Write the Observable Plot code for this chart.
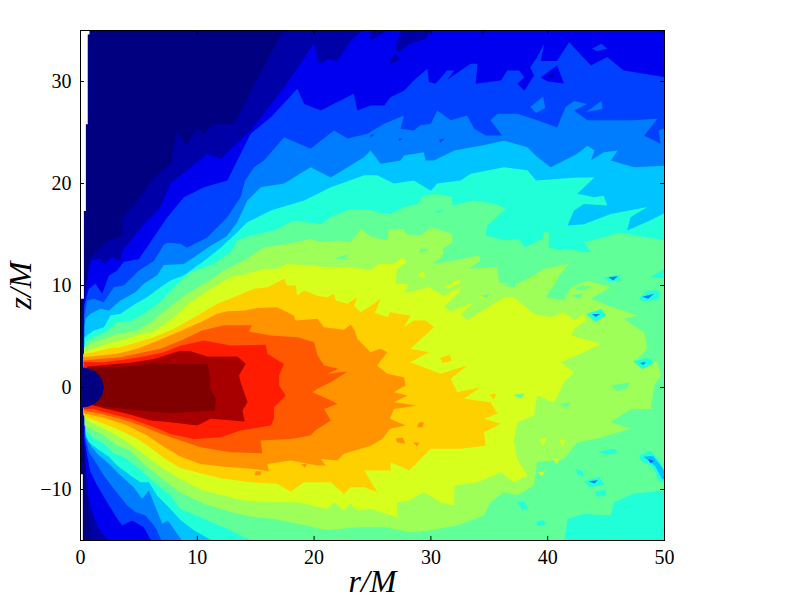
<!DOCTYPE html>
<html><head><meta charset="utf-8">
<style>html,body{margin:0;padding:0;background:#fff}</style>
<script src="https://cdn.jsdelivr.net/npm/d3@7"></script>
<script src="https://cdn.jsdelivr.net/npm/@observablehq/plot@0.6"></script>
</head><body><div id="c"></div><script>
const levelColors=["#000080","#0000a8","#0000f1","#0040ff","#007cff","#00c4ff","#20ffd7","#60ff97","#9eff58","#d7ff1e","#ffd000","#ff9400","#ff5800","#ff1c00","#a80000","#800000"];
const rTicks=[0,10,20,30,40,50];
const zTicks=[-10,0,10,20,30];
// contour boundaries, as [r/M, z/M]
const level0=[[.77,35.2],[.77,34.6],[.62,34.6],[.62,25.8],[.46,25.8],[.46,17.3],[.29,17.3],[.29,8.7],[0,8.7],[0,-8.5],[.2,-8.5],[.2,-15.2],[50.2,-15.2],[50.2,35.2]];
const level1=[[.9,-15.2],[.71,-12.54],[.57,-11.24],[.5,-9.6],[.43,-7.64],[.28,-5],[.25,2],[.3,8],[.45,10],[.7,12.2],[.86,12.8],[2,14.1],[2.4,14.4],[3.6,14.9],[3.6,16.7],[4.9,18.3],[6.3,20.6],[7.7,21.9],[8.3,25.2],[9,23.7],[10,25.36],[10.57,24.87],[11.43,25.85],[13.14,25.85],[17.43,35.2],[50.2,35.2],[50.2,-15.2]];
const level2=[[2.5,-15.2],[1.57,-13.85],[1,-12.2],[.71,-10.9],[.57,-9.6],[.43,-7.3],[.28,-4.7],[.25,2],[.3,8.5],[.6,10.5],[.77,11.8],[1,12.5],[1.7,12.6],[2.14,12],[2.57,12.8],[3.4,12.4],[3.6,13.4],[4.3,14.4],[5.43,16],[6.86,17.7],[7.7,20],[9.14,21.3],[10.86,22.9],[12,22.4],[14.57,25.2],[17.43,29.4],[20,33.7],[20.43,31.7],[21.2,32.2],[22,32],[23.14,34],[24,34.84],[24.86,35.2],[50.2,35.2],[50.2,-15.2]];
const level3=[[6.14,-15.2],[5.42,-13.69],[4.42,-13.03],[3.57,-13.5],[3.14,-12.87],[2.28,-11.24],[1.43,-9.6],[.86,-8.3],[.57,-6.66],[.34,-5],[.28,2],[.3,8],[.71,9.67],[1.28,10.16],[1.86,9.18],[2.43,10.98],[3.14,11.47],[3.7,12.3],[5,12.6],[5.7,13.76],[7.43,16.7],[8.86,18.66],[10.57,19.64],[12.57,20.3],[14.57,24.87],[16.3,26.5],[18.57,29.3],[19.14,27.8],[20.57,27.16],[23.4,28.8],[23.7,27.16],[24.83,27.65],[26,27.65],[26.54,28.46],[27.7,29.1],[28.54,30.1],[29.7,31.24],[29.83,29.94],[30.4,29.77],[31.4,31.08],[32,31.08],[31.4,30.16],[33.4,31.73],[34,31.73],[33.83,29.77],[36,30.1],[36.54,31.08],[37.54,31.08],[38,30.4],[37.4,29.77],[38,29.1],[38.83,30.6],[38.5,31.4],[39,32.2],[39.7,33.7],[39.4,32],[40.8,32],[41.83,33.86],[43.7,31.57],[45.1,32.4],[46.5,31.07],[50.2,30.4],[50.2,-15.2]];
const level4=[[7,-15.2],[6.42,-13.69],[5.56,-12.54],[4.7,-12.2],[4,-11.56],[2.85,-9.93],[2,-8.62],[1.28,-7.3],[.71,-6.3],[.43,-5],[.3,2],[.35,7],[.57,8.53],[1.14,8.7],[2,8.36],[2.85,9.84],[3.7,10],[5,11.47],[6.28,12.4],[7.13,14],[7.42,14.2],[8.56,14.1],[9.1,13.7],[10.85,14.7],[12.56,16.7],[13.7,18.65],[14.1,20.3],[14.86,21.6],[15.7,22.25],[17.43,24.54],[19.7,23.4],[21.7,25.2],[22.86,24.4],[24.57,24.87],[26,25.85],[27.7,26.67],[27.4,25.36],[28.54,25.2],[29.1,25.7],[30,25.85],[30.54,27.16],[31.7,26.2],[33.1,26.67],[33.7,25.36],[34.7,24.7],[36.1,24.7],[35.1,26.2],[35.7,26.83],[37.4,26.83],[39.1,26.2],[40.8,25.5],[41.54,27.5],[42.26,28.1],[43.4,27.8],[42.26,27.16],[43.4,26.2],[47.4,26.2],[49.4,26.34],[48.26,24.7],[49.66,23.9],[49.5,25.2],[50.2,25.5],[50.2,-15.2]];
const level5=[[8.8,-15.2],[7.48,-13.03],[7,-13.36],[6.42,-11.73],[5.85,-10.09],[5.28,-10.9],[4.56,-9.77],[3.28,-8.46],[2.43,-7.48],[1.43,-6.5],[.86,-5.68],[.43,-4.86],[.3,2],[.35,6],[.43,6.73],[.86,7.22],[1.7,7.71],[2.43,7.55],[3.42,8.53],[4.7,9.35],[5.42,10.16],[6.56,11],[7.13,12],[8.85,12.1],[9.5,12.6],[11.13,13.9],[12.5,14.8],[13.42,16.2],[14.27,18.3],[15.43,19.64],[17.43,20],[19.7,21.6],[21.43,20.6],[24.3,22.6],[24.83,23.23],[25.7,21.93],[27.4,22.25],[27.7,22.75],[29.4,23.07],[29.54,22.25],[30.26,22.25],[32,23.23],[34.26,23.7],[36.26,24.2],[38.26,23.56],[39.1,22.6],[40.26,21.6],[42.5,22.9],[43.4,23.7],[44,23.23],[43.7,22.25],[44.8,23.07],[46,23.23],[45.4,22.25],[47.4,21.6],[50.2,21.76],[50.2,-15.2]];
const level6=[[12,-15.2],[11.1,-14.9],[9.7,-14],[8.56,-13],[7.7,-11.9],[6.56,-10.6],[5.85,-9.28],[5.14,-9.28],[4.28,-8.62],[3.14,-7.64],[2.43,-6.8],[1.43,-6],[.71,-5.35],[.43,-4.54],[.3,2],[.34,4.93],[1.14,5.59],[2,5.91],[2.57,7.06],[3.42,7.22],[4.7,8.2],[5.7,8.85],[6.85,9.84],[7.7,10.5],[8.85,11],[10.57,12.4],[12,13.7],[13.4,15.2],[14.27,16.2],[16.3,17.35],[19.14,18.33],[21.43,19.64],[24.3,20.8],[25.4,20.8],[26.83,20],[28.54,20.3],[30,19.3],[30.54,20],[32.54,20.3],[33.4,20.95],[36.26,21.6],[38.26,21.3],[39,20.3],[42.54,20.6],[44,20.6],[42.54,19],[44,18.66],[44.8,18.8],[45.1,17.84],[43.1,18],[42.26,17.35],[41.7,15.88],[43.1,16],[45.4,17],[48.54,17.7],[47.1,16.7],[46.8,15.4],[48.8,16.4],[50.2,17.2],[50.2,-15.2]];
const level7=[[15.13,-15.2],[14,-14.68],[12.85,-14],[11.42,-13.3],[10,-12.6],[8.56,-11.9],[7.7,-10.6],[6.42,-9.4],[5,-7.97],[3.7,-6.8],[2.85,-6.5],[2,-5.52],[1.14,-5.03],[.43,-4.21],[.3,2],[.43,4.44],[1.14,5],[2.14,5.42],[3.14,6.4],[4.28,6.5],[5.42,7.22],[6.85,8.4],[8,9.83],[9.42,11.3],[11.4,12.12],[12.85,13.26],[13.42,14.4],[14.57,14.9],[16.57,15.4],[18.27,16.37],[20.57,16],[21.42,16.7],[23.13,17.5],[24.85,17.4],[25.4,17.2],[26.54,17],[27.7,17.68],[28.83,18],[29.4,18.82],[30.54,18.98],[31.83,18.66],[31.83,17.84],[33.7,18.33],[35.54,18],[36.4,17.51],[34.83,15.88],[34.7,14.9],[36.4,14.4],[37.54,14.57],[38,13.75],[39.54,14.57],[39.7,15.22],[40.1,15.22],[40.1,13.75],[41.1,13.43],[41.4,13.59],[43.7,13.26],[43.1,14.24],[45.4,14.9],[46,15.2],[50.2,14.4],[50.2,-10.1],[47.4,-10.4],[45.7,-11.24],[45.4,-12.55],[43.1,-12.4],[41.7,-12.9],[41.4,-15.2]];
const level8=[[.34,-3.72],[.3,2],[.3,3.95],[1.14,4.44],[2,4.77],[3.14,5.26],[4.85,5.58],[6,6.4],[7.42,7.7],[9.14,9.18],[10.56,10.16],[12.28,11.47],[14,12.45],[15.7,13.75],[17.7,14.08],[19.7,14.57],[20.57,14.24],[22,14.4],[23.13,14.24],[24,15.55],[24.83,14.8],[26.26,14.4],[26.4,15.55],[27.7,15.55],[27.83,15.06],[29.1,14.9],[30,15.72],[31.83,15.06],[31.83,14.24],[31,13.59],[31.1,12.94],[30.1,12.12],[32,12.45],[34.1,12.94],[34.26,12.45],[33.26,11.63],[35.7,11.8],[35.83,10.32],[36.83,10.16],[37.7,10.32],[38.54,10.8],[39.7,11.63],[41.83,12.12],[41.1,11.14],[40.4,9.83],[39.83,8.85],[41.4,8.53],[42,9.83],[43.4,10.5],[45.4,9.83],[43.7,8.7],[45.4,7.94],[47.7,7.06],[46.5,6.73],[48.26,5.42],[48.54,3.8],[47.7,2.8],[49.4,2.48],[49.7,1.18],[49.1,.2],[48.83,-2.1],[47.1,-2.1],[45.4,-3.4],[47.1,-4.05],[44.26,-5],[42.54,-5.36],[41.4,-7],[39.1,-7.3],[38.83,-9.6],[37.4,-10.6],[36.26,-10.26],[35.1,-11.24],[34.54,-12.55],[32.26,-13.53],[30,-14],[28.28,-14.2],[26,-13.7],[23.7,-13.7],[21.13,-14],[18.56,-13.37],[16.56,-12.88],[14.56,-12.65],[12.85,-12.2],[10.56,-11.4],[8.56,-10.3],[7.13,-9.1],[5.42,-7.5],[4.28,-6.2],[3.14,-5.68],[2,-4.7],[1.14,-4.21]];
const level9=[[.57,-3.23],[.3,-2.8],[.3,3.46],[1.14,3.79],[2.28,4.28],[3.42,4.61],[4.85,5.1],[6.4,5.6],[8,6.89],[9.42,8.36],[11.13,9.67],[12.85,10.81],[14.28,11.14],[15.7,11.63],[16.85,11.63],[17.7,12.12],[19.7,11.96],[21.42,11.73],[23.13,11.8],[24.83,11.5],[25.54,12.12],[26.83,12.12],[27.54,12.77],[27.92,12.28],[27.1,11.63],[26.97,10.16],[28.1,10.16],[27.7,9.18],[26.83,9],[29.83,9.83],[31.1,9],[32.54,9.83],[32.4,9.34],[31.1,7.87],[31.7,7.48],[33.7,8.36],[32.54,7.2],[33.1,6.56],[36.26,8.85],[37.1,8.85],[38.83,7.2],[40.26,6.89],[41.4,7.38],[42.26,6.56],[43.1,7.2],[43.26,6.56],[42.26,5.75],[42,5.1],[44.54,4.28],[43.1,3.46],[41.1,2.48],[42.26,1.5],[41.4,.52],[40.54,-1.44],[39.1,-.78],[38.83,-2.75],[37.4,-3.4],[37.1,-5.36],[37.4,-7],[38.26,-8.63],[37.1,-9.3],[36,-8.3],[34,-9.3],[32,-9.6],[32,-11.57],[30.83,-11.24],[29.4,-10.26],[28.14,-11.08],[27.13,-11.25],[27.13,-12.72],[24.85,-11.9],[23.7,-12.06],[23.13,-11.4],[22.56,-12.06],[21.7,-11.25],[21.13,-11.9],[18.56,-11.25],[16.28,-11.25],[14,-11.08],[11.7,-10.43],[10.28,-10],[8.56,-9],[7.13,-8],[5.7,-6.8],[4.56,-5.8],[3.14,-4.7],[1.7,-3.88]];
const level10=[[.43,-2.9],[.23,-2.7],[.23,3.3],[1.14,3.46],[2.28,3.79],[3.42,3.95],[4.85,4.44],[6.28,4.93],[8,5.75],[10.28,7.22],[11.7,8.2],[13.13,8.85],[14.85,9.67],[16,9.83],[16.85,10.32],[17.42,10.65],[17.7,10],[18.42,10],[18.56,9],[19.13,9.5],[20.28,9],[21.13,8.85],[21.7,9.18],[21.85,8.53],[22.85,8.2],[23.7,8.85],[23.42,8],[24,7.38],[24.83,8],[25.7,8.7],[25.2,7.3],[26.3,6.9],[26.5,7.4],[27.3,7.2],[28.26,7.06],[27.7,5.9],[28.54,6.56],[29.54,6.56],[30.26,5.9],[28.26,3.8],[29.83,3.46],[28.26,2.48],[30.83,1.34],[33.1,2.16],[31.7,.85],[32.26,-.46],[34.26,.03],[32.83,-1.1],[35.1,-1.44],[35.7,-2.58],[34.54,-3.07],[36,-3.56],[34.54,-4.38],[34.7,-5.7],[32.54,-6],[30,-6],[29.1,-7],[28.14,-8.14],[26.56,-7.33],[26.56,-8.14],[24.28,-8.14],[25.42,-10.27],[24.28,-9.78],[23.13,-9.78],[22.56,-10.43],[21.42,-9.28],[19.13,-9.28],[18,-10.2],[16.85,-9.45],[14.56,-9.28],[12,-8.9],[10.28,-8.4],[8.56,-7.9],[7.13,-6.9],[6,-5.9],[4.85,-5.03],[3.42,-4.21],[2,-3.56]];
const level11=[[.43,-2.58],[.23,-2.5],[.23,2.97],[1.7,3.14],[3.14,3.3],[4.85,3.79],[6.28,4.44],[8.28,5.4],[10.28,6.4],[11.7,7.22],[12.56,7.48],[14,7.54],[15.13,7.8],[16.85,7.87],[18.27,7.05],[18.42,6.56],[20.28,6.73],[20.85,5.9],[22.56,5.65],[23.13,6.17],[23.48,5.6],[23.7,4.77],[24.83,3.46],[25.7,3.8],[26.26,3.46],[25.4,2.16],[26.26,1.34],[27.7,1],[27.83,.2],[26.83,-.46],[28,-.78],[26.83,-1.44],[28.83,-1.76],[26.83,-2.1],[26.5,-3.07],[27.83,-3.73],[26.5,-4.05],[25.85,-5.04],[24.85,-5.7],[22.56,-6.5],[22,-7.16],[20.56,-7],[21,-7.65],[20.28,-7.65],[18,-7.16],[16,-7.5],[16.13,-8.2],[14.85,-7.98],[12.56,-7.8],[10.28,-7.5],[8.56,-6.8],[7.13,-5.8],[5.7,-4.7],[4,-3.72],[2.28,-3.07]];
const level12=[[.28,-2.25],[.23,2.65],[1.7,2.8],[3.42,2.97],[5.42,3.46],[6.85,3.79],[8.8,4.7],[10.4,5.6],[12.3,6.1],[13.7,6.1],[14.7,6.1],[14.4,5.5],[16.3,5.1],[18.57,4.93],[20,4.44],[20.3,3.14],[20.86,2.16],[22.1,1.83],[21.14,1.34],[22.86,1.57],[21.43,.52],[20.3,-.13],[19.86,-.46],[21.14,-1.1],[22,-1.6],[20.86,-2.1],[21.43,-3.24],[20.1,-4.22],[19.7,-4.7],[18,-5.04],[15.42,-5.2],[15.56,-6.44],[12.85,-6.34],[10.28,-5.85],[8.56,-5.2],[6.85,-4.54],[5.14,-3.72],[3.42,-3.07],[1.7,-2.58]];
const level13=[[.28,2.5],[2,2.48],[3.7,2.71],[5.42,3.04],[7.13,3.46],[8.56,4.1],[10.57,4.6],[12.86,4.12],[15.86,4.18],[16,3.3],[16.7,2.8],[17.43,2.32],[17,1.18],[17,.2],[17.57,-.78],[16.57,-1.93],[16.57,-3.07],[16.3,-3.73],[13.7,-4.22],[12,-4.87],[9.7,-5.04],[7.7,-4.55],[6.28,-3.88],[4.28,-3.07],[2.57,-2.58],[1,-2.09],[.28,-2.1]];
const level14=[[.57,2.06],[2.28,2.22],[4.28,2.42],[6.28,2.8],[8.56,3.6],[9.43,3.56],[10.86,3.04],[13.43,3.04],[14.14,2.32],[13.57,1.18],[13.71,.52],[14,-.46],[14.3,-1.44],[13.86,-2.25],[14.06,-3.33],[11.14,-3.07],[10,-3.73],[7.7,-3.4],[6,-3.23],[4,-2.58],[2.14,-2.09],[.57,-1.6]];
const level15=[[.86,2],[3.43,2],[6.57,2.4],[7.7,2.3],[10.86,2.3],[11.1,1.18],[11.1,-.13],[11.6,-1.1],[11.5,-2.25],[7.7,-2.5],[6.28,-2.4],[3.7,-2.09],[1.14,-1.76]];
const horizon=[[0,2],[.7,1.87],[1.2,1.6],[1.6,1.2],[1.85,.75],[2,0],[1.85,-.75],[1.6,-1.2],[1.2,-1.6],[.7,-1.87],[0,-2]];
// small closed patches, painted after the nested bands: [level, outline]
const patches=[
[1,[[27.5,35.2],[30,35.2],[29.6,34.2],[28.2,33.7],[27.3,32.9],[26.9,33.2]]],
[1,[[26.9,32.7],[27.4,32.2],[26.3,31.6]]],
[1,[[24.83,35.2],[26.5,35.2],[24.83,34]]],
[1,[[34.2,35.2],[34.8,35.2],[34.4,34.4]]],
[1,[[49,35.2],[50.2,35.2],[50.2,34.5]]],
[2,[[39.4,30.4],[40.8,31.6],[41.4,29.8],[40,30]]],
[1,[[40,30.6],[40.6,30.8],[40.4,30.4]]],
[3,[[43.8,33.2],[44.6,33.7],[45.1,33.2],[44.2,33]]],
[4,[[38.5,27.5],[39.6,28.5],[39.8,27.4],[39,26.9]]],
[4,[[43.3,27],[44.6,28.1],[44.7,27.3]]],
[3,[[24.83,24.8],[25.2,24.8],[24.83,24.5]]],
[3,[[27.2,24.4],[27.6,24.4],[27.3,24.2]]],
[3,[[30.7,24.3],[31.2,24.4],[30.8,24]]],
[7,[[29.1,13.6],[29.9,13.5],[29,13.2]]],
[7,[[30.8,12.9],[32,13.5],[31.2,12.5]]],
[6,[[30.4,17.3],[31.2,17.4],[30.6,17.1]]],
[7,[[21.7,12.6],[23,13.1],[22.6,12.6]]],
[9,[[28.8,11],[29.4,11.4],[29.5,10.7]]],
[9,[[31.1,9.8],[32.4,10.6],[32.6,10.3],[31.5,9.7]]],
[9,[[34.1,8.9],[34.7,9.2],[35.1,8.9],[34.5,8.6]]],
[7,[[42.3,9.7],[43,10],[43.8,9.9],[43,9.5]]],
[6,[[44.8,10.8],[46.2,11],[46.2,10.5],[45.2,10.4]]],
[4,[[45.2,10.8],[46,10.9],[45.6,10.5]]],
[6,[[48.8,10.8],[50.2,11.8],[50.2,10.7]]],
[7,[[36.2,10],[37.2,10.4],[37.2,9.8]]],
[7,[[42,9],[43,9.3],[42.8,8.7]]],
[7,[[40,9.5],[40.8,9.4],[40.4,9]]],
[7,[[34.2,9],[35,9.2],[34.8,8.7]]],
[6,[[47.83,8.8],[48.6,9.5],[49.6,9.5],[49.5,8.7],[48.2,8.4]]],
[4,[[48.1,8.9],[49.1,9.2],[48.6,8.7]]],
[6,[[43.3,7.2],[44.6,7.7],[45,7.1],[44.1,6.4]]],
[4,[[43.8,7.2],[44.5,7.2],[44.1,6.9]]],
[6,[[47.3,2.6],[48.6,2.9],[49.1,2.4],[48.1,1.8]]],
[4,[[47.9,2.4],[48.4,2.5],[48.2,2.2]]],
[7,[[45.4,.2],[47,.5],[46.8,-.1],[46,-.4]]],
[7,[[37,-.7],[38,-.6],[37.7,-1.1]]],
[7,[[41,-1.6],[42,-1.5],[41.6,-2]]],
[6,[[47.83,-6.67],[48.8,-6.2],[49.6,-7.2],[50.2,-8.8],[50.2,-9.3],[49.6,-9.3],[49,-7.8],[48,-7.2]]],
[5,[[48.2,-6.8],[49,-6.7],[49.9,-8],[50.2,-9],[49.8,-9],[49.2,-7.7]]],
[3,[[48.6,-7],[49.1,-7.2],[48.8,-7.4]]],
[6,[[43.1,-9.2],[44.4,-8.8],[44.9,-9.5],[43.6,-9.8]]],
[4,[[43.5,-9.2],[44.3,-9.1],[44,-9.4]]],
[6,[[44.3,-6.3],[45.7,-6],[46,-6.4],[45,-6.6]]],
[6,[[37.4,-11.2],[38,-11.2],[38.3,-11.9],[37.8,-12]]],
[6,[[39,-13.2],[39.6,-13],[39.9,-13.4],[39.2,-13.6]]],
[6,[[42.4,-8],[43,-8.2],[43.1,-8.7],[42.6,-8.6]]],
[6,[[44,-10.2],[45,-10],[45,-10.6],[44.3,-10.7]]],
[7,[[35.5,-13.2],[36.6,-13.2],[36,-13.7]]],
[7,[[47,-6],[48,-5.8],[47.6,-6.3]]],
[9,[[39.3,-5],[39.9,-5],[39.6,-5.8]]],
[9,[[41,-5.2],[41.5,-5.1],[41.3,-5.8]]],
[9,[[40.4,-7],[41,-7],[40.8,-7.5]]],
[9,[[39.2,-8.3],[39.8,-8.2],[39.5,-8.7]]],
[10,[[30.8,2.9],[31.6,3.2],[31.8,2.6],[31,2.4]]],
[10,[[35,-.7],[35.6,-.6],[35.4,-1.2]]],
[11,[[15,-8.2],[15.5,-8.2],[15.4,-8.6],[14.9,-8.6]]],
[11,[[18.9,-7.5],[19.4,-7.5],[19.2,-7.9]]],
[11,[[29,-3.4],[29.4,-3.4],[29.3,-3.9],[28.8,-3.9]]],
[11,[[27,-5],[27.6,-4.9],[27.8,-5.5],[27.1,-5.4]]],
[11,[[28.5,-5.4],[29,-5.4],[28.8,-5.8]]],
[10,[[26.9,-5.3],[28.2,-5.9],[27.2,-6.1]]]
];
const ring=(level,id,pts)=>pts.map(([r,z])=>({r,z,level,id}));
const nested=[level0,level1,level2,level3,level4,level5,level6,level7,level8,level9,level10,level11,level12,level13,level14,level15];
const shapes=[
  ...nested.flatMap((p,i)=>ring(i,"b"+i,p)),
  ...patches.flatMap(([lv,p],i)=>ring(lv,"p"+i,p)),
  ...ring(0,"horizon",horizon)
];
const serif="'Liberation Serif','DejaVu Serif',serif";
const chart=Plot.plot({
  width:800,height:600,marginLeft:80,marginRight:136,marginTop:30,marginBottom:60,
  style:{background:"#fff",fontFamily:serif,color:"#000",overflow:"visible"},
  x:{domain:[0,50]},
  y:{domain:[-15,35]},
  color:{type:"ordinal",domain:d3.range(16),range:levelColors},
  marks:[
    Plot.line(shapes,{x:"r",y:"z",z:"id",fill:"level",stroke:"none",clip:true,curve:"linear"}),
    Plot.ruleX(rTicks.slice(1,-1),{x:d=>d,y1:-15,y2:-14.6,stroke:"#000"}),
    Plot.ruleX(rTicks.slice(1,-1),{x:d=>d,y1:35,y2:34.6,stroke:"#000"}),
    Plot.ruleY(zTicks,{y:d=>d,x1:0,x2:.34,stroke:"#000"}),
    Plot.ruleY(zTicks,{y:d=>d,x1:50,x2:49.66,stroke:"#000"}),
    Plot.frame({stroke:"#000",strokeWidth:1}),
    Plot.axisX({ticks:rTicks,tickSize:0,tickPadding:9,fontSize:20,label:null}),
    Plot.axisY({ticks:zTicks,tickSize:0,tickPadding:9,fontSize:20,label:null}),
    Plot.text(["r/M"],{frameAnchor:"bottom",dy:51,text:d=>d,fontSize:32,fontStyle:"italic",fontFamily:serif}),
    Plot.text(["z/M"],{frameAnchor:"left",textAnchor:"middle",dx:-60,rotate:-90,text:d=>d,fontSize:32,fontStyle:"italic",fontFamily:serif})
  ]
});
document.getElementById("c").appendChild(chart);
</script></body></html>
